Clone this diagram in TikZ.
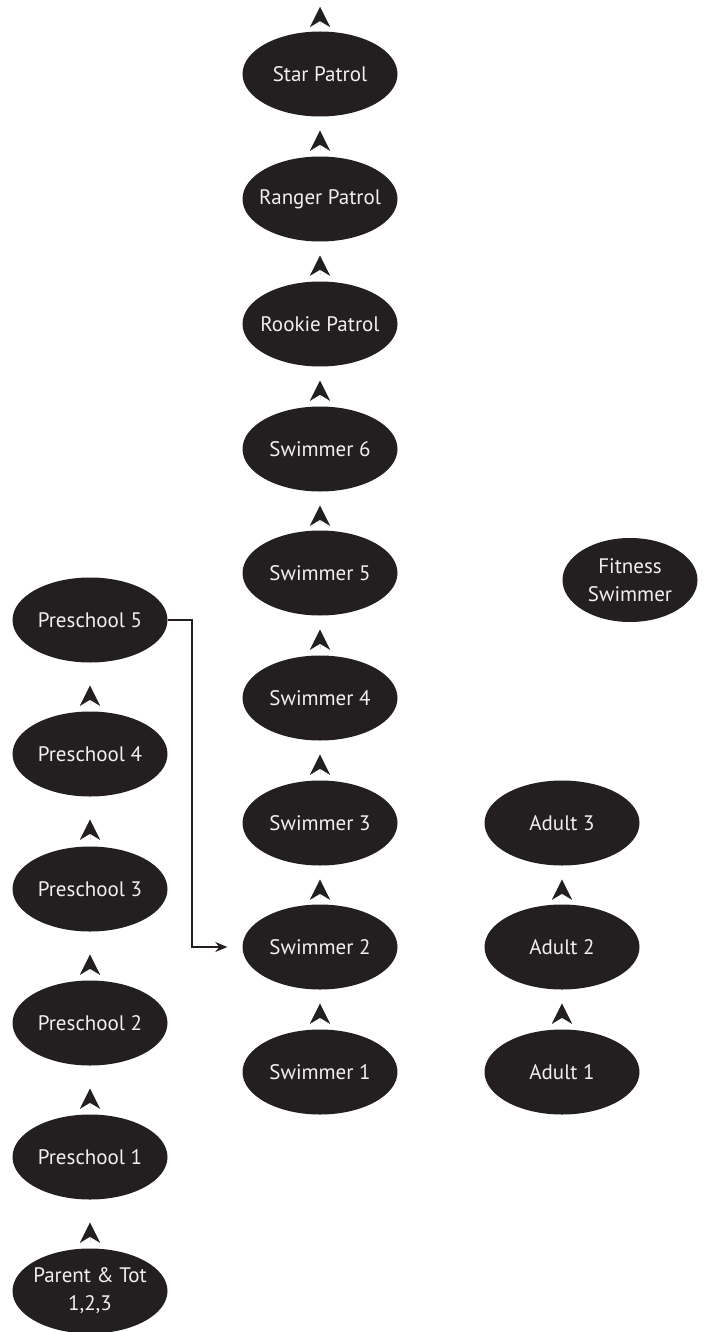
\documentclass[tikz,border=0pt]{standalone}
\usepackage{fontspec}
\setmainfont{PT Sans}
\usetikzlibrary{arrows.meta,shapes.geometric}
\definecolor{levelfill}{RGB}{35,31,32}

\begin{document}
\begin{tikzpicture}[x=1pt,y=-1pt,
  level/.style={ellipse,fill=levelfill,text=white!94!black,minimum width=155pt,
    minimum height=85pt,inner xsep=-30pt,inner ysep=0pt,align=center,
    font=\fontsize{21}{28}\selectfont},
  lift/.style={draw=levelfill,line width=0.01pt,
    -{Stealth[length=20pt,width=20pt,inset=6pt]},
    shorten <=6pt,shorten >=#1},
  feed/.style={draw=levelfill,line width=1.4pt,
    -{Stealth[length=12pt,width=10pt]},shorten >=15pt}]

\useasboundingbox (0,0) rectangle (707,1332);

% Swimmer and patrol levels
\node[level] (star)   at (320,74)   {Star Patrol};
\node[level] (ranger) at (320,199)  {Ranger Patrol};
\node[level] (rookie) at (320,324)  {Rookie Patrol};
\node[level] (sw6)    at (320,449)  {Swimmer 6};
\node[level] (sw5)    at (320,573)  {Swimmer 5};
\node[level] (sw4)    at (320,698)  {Swimmer 4};
\node[level] (sw3)    at (320,823)  {Swimmer 3};
\node[level] (sw2)    at (320,947)  {Swimmer 2};
\node[level] (sw1)    at (320,1072) {Swimmer 1};
\coordinate (peak) at (320,7);

% Preschool levels
\node[level] (pre5) at (90,620)  {Preschool 5};
\node[level] (pre4) at (90,754)  {Preschool 4};
\node[level] (pre3) at (90,889)  {Preschool 3};
\node[level] (pre2) at (90,1023) {Preschool 2};
\node[level] (pre1) at (90,1157) {Preschool 1};
\node[level] (tot)  at (90,1291) {Parent \& Tot\\1,2,3};

% Adult levels
\node[level] (ad3) at (562,823)  {Adult 3};
\node[level] (ad2) at (562,947)  {Adult 2};
\node[level] (ad1) at (562,1072) {Adult 1};
\node[level,minimum width=135pt,minimum height=84pt] (fit) at (630,580) {Fitness\\Swimmer};

% Progression arrows (tips only)
\draw[lift=0pt]  (star) -- (peak);
\draw[lift=14pt] (ranger) -- (star);
\draw[lift=14pt] (rookie) -- (ranger);
\draw[lift=14pt] (sw6) -- (rookie);
\draw[lift=14pt] (sw5) -- (sw6);
\draw[lift=14pt] (sw4) -- (sw5);
\draw[lift=14pt] (sw3) -- (sw4);
\draw[lift=14pt] (sw2) -- (sw3);
\draw[lift=14pt] (sw1) -- (sw2);
\draw[lift=23pt] (pre4) -- (pre5);
\draw[lift=23pt] (pre3) -- (pre4);
\draw[lift=23pt] (pre2) -- (pre3);
\draw[lift=23pt] (pre1) -- (pre2);
\draw[lift=23pt] (tot) -- (pre1);
\draw[lift=14pt] (ad2) -- (ad3);
\draw[lift=14pt] (ad1) -- (ad2);

% Preschool 5 feeds into Swimmer 2
\coordinate (jog) at (192,947);
\draw[feed] (pre5.east) -| (jog) -- (sw2.west);

\end{tikzpicture}
\end{document}
